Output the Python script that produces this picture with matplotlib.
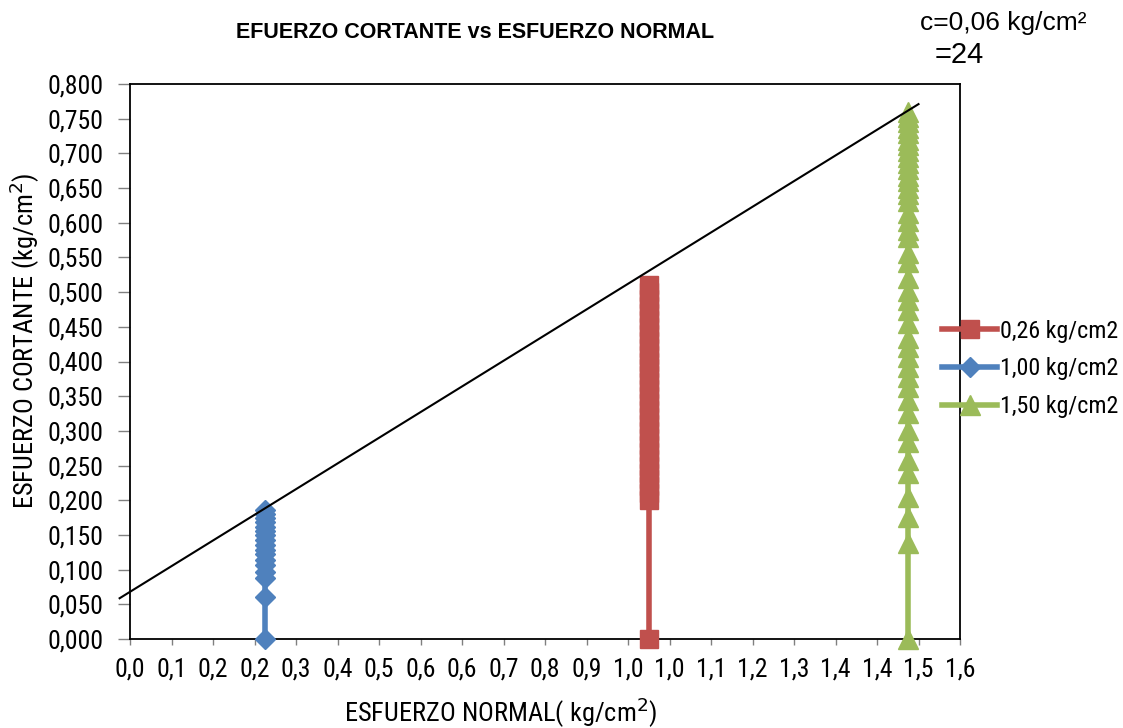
import matplotlib
matplotlib.use("Agg")
import matplotlib.pyplot as plt
import numpy as np
from matplotlib.ticker import FuncFormatter, MultipleLocator, FixedLocator, FixedFormatter
from matplotlib import font_manager

# ---- data ----
labels = ["0,26 kg/cm2", "1,00 kg/cm2", "1,50 kg/cm2"]
x_red = 1.00
y_red = [0.000, 0.200, 0.210, 0.220, 0.230, 0.240, 0.250, 0.260, 0.270, 0.280,
         0.290, 0.300, 0.310, 0.320, 0.330, 0.340, 0.350, 0.360, 0.370, 0.380,
         0.390, 0.400, 0.410, 0.420, 0.430, 0.440, 0.450, 0.460, 0.470, 0.480,
         0.490, 0.500, 0.510]
x_blue = 0.26
y_blue = [0.000, 0.060, 0.088, 0.097, 0.106, 0.114, 0.122, 0.129, 0.136, 0.143,
          0.150, 0.156, 0.162, 0.168, 0.174, 0.180, 0.186]
x_green = 1.50
y_green = [0.000, 0.138, 0.176, 0.205, 0.239, 0.258, 0.284, 0.301, 0.326, 0.344,
           0.363, 0.378, 0.392, 0.406, 0.421, 0.434, 0.455, 0.474, 0.488, 0.502,
           0.521, 0.543, 0.557, 0.579, 0.589, 0.603, 0.614, 0.631, 0.641, 0.650,
           0.660, 0.668, 0.677, 0.686, 0.695, 0.703, 0.712, 0.720, 0.729, 0.737,
           0.745, 0.752, 0.760]
fit_x = [-0.02, 1.52]
fit_intercept = 0.068
fit_slope = 0.4625
x_tick_labels = ["0,0", "0,1", "0,2", "0,2", "0,3", "0,4", "0,5", "0,6", "0,6", "0,7",
                 "0,8", "0,9", "1,0", "1,0", "1,1", "1,2", "1,3", "1,4", "1,4", "1,5", "1,6"]

names = {f.name for f in font_manager.fontManager.ttflist}
narrow = [n for n in ["Liberation Sans Narrow", "Roboto Condensed", "Archivo Narrow"] if n in names]
plt.rcParams['font.family'] = narrow[:1] + ['DejaVu Sans']
arial = ['Liberation Sans', 'DejaVu Sans']

W, H = 1123, 728
fig = plt.figure(figsize=(W/100, H/100), dpi=100)
ax = fig.add_axes([130/W, 1-639/H, 830/W, 555/H])

red = "#C0504D"; blue = "#4F81BD"; green = "#9BBB59"
ax.plot([x_red]*len(y_red), y_red, color=red, lw=4, marker='s', ms=13.5,
        mec=red, label=labels[0], clip_on=False, zorder=3)
ax.plot([x_blue]*len(y_blue), y_blue, color=blue, lw=4, marker='D', ms=10,
        mec=blue, label=labels[1], clip_on=False, zorder=3)
ax.plot([x_green]*len(y_green), y_green, color=green, lw=4, marker='^', ms=14,
        mec=green, label=labels[2], clip_on=False, zorder=3)

fy = [fit_intercept + fit_slope*x for x in fit_x]
ax.plot(fit_x, fy, color='black', lw=1.5, clip_on=False, zorder=4)

ax.set_xlim(0, 1.6)
ax.set_ylim(0, 0.8)
ax.xaxis.set_major_locator(FixedLocator(np.linspace(0, 1.6, len(x_tick_labels))))
ax.xaxis.set_major_formatter(FixedFormatter(x_tick_labels))
ax.yaxis.set_major_locator(MultipleLocator(0.05))
ax.yaxis.set_major_formatter(FuncFormatter(lambda v, p: f"{v:.3f}".replace('.', ',')))
ax.tick_params(axis='x', labelsize=18.5, length=4.3, width=1, pad=9, color='#808080')
ax.tick_params(axis='y', labelsize=18.5, length=8.5, width=1, pad=10.5, color='#808080')
for s in ax.spines.values():
    s.set_linewidth(1.3)

fig.text(501/W, 1-713/H, "ESFUERZO NORMAL( kg/cm$^{2}$)", fontsize=19,
         ha='center', va='center')
fig.text(25/W, 1-341/H, "ESFUERZO CORTANTE (kg/cm$^{2}$)", fontsize=19,
         ha='center', va='center', rotation=90)

fig.text(475/W, 1-33/H, "EFUERZO CORTANTE vs ESFUERZO NORMAL",
         fontsize=15.5, fontweight='bold', ha='center', va='center', family=arial)
fig.text(920/W, 1-23/H, "c=0,06 kg/cm²", fontsize=19, ha='left', va='center',
         family=arial)
fig.text(935/W, 1-55/H, "=24", fontsize=21, ha='left', va='center', family=arial)

leg = ax.legend(loc='center left', bbox_to_anchor=(942/W, 1-369/H),
                bbox_transform=fig.transFigure,
                frameon=False, fontsize=17.3, handlelength=2.3, handletextpad=0.12,
                labelspacing=0.62, borderaxespad=0, borderpad=0)

fig.savefig("out.png", dpi=100)
